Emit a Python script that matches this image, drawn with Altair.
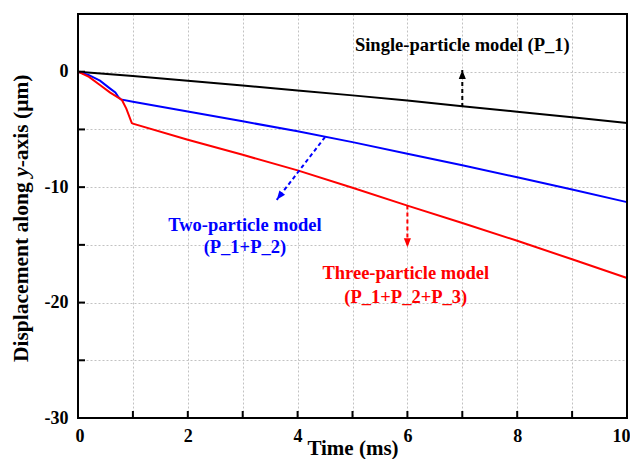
import math
import altair as alt
import pandas as pd

# ---------------- data ----------------
t_single = [0, 1, 2, 3, 4, 5, 6, 7, 8, 9, 10]
d_single = [0, -0.38, -0.78, -1.2, -1.62, -2.05, -2.5, -3.0, -3.47, -3.95, -4.45]

t_two = [0, 0.2, 0.4, 0.58, 0.68, 0.73, 0.78, 1, 2, 3, 4, 5, 6, 7, 8, 9, 10]
d_two = [0, -0.3, -0.78, -1.44, -1.8, -2.16, -2.4, -2.6, -3.45, -4.3, -5.15, -6.1, -7.1, -8.1, -9.15, -10.2, -11.3]

t_three = [0, 0.2, 0.4, 0.58, 0.8, 0.88, 0.98, 1, 2, 3, 4, 5, 6, 7, 8, 9, 10]
d_three = [0, -0.45, -1.15, -1.79, -2.45, -3.2, -4.45, -4.5, -5.9, -7.2, -8.55, -10.05, -11.6, -13.1, -14.65, -16.25, -17.87]

series_names = ["Single", "Two", "Three"]
series_colors = ["#000000", "#0000ff", "#ff0000"]

# annotation arrows (start on curve -> tip), in data units
arrow_series = ["Single", "Two", "Three"]
arrow_x0 = [7.0, 4.5, 6.0]
arrow_y0 = [-3.05, -5.66, -11.6]
arrow_x1 = [7.0, 3.62, 6.0]
arrow_y1 = [0.15, -11.1, -15.2]

# annotation labels
label_series = ["Single", "Two", "Two", "Three", "Three"]
label_text = ["Single-particle model (P_1)", "Two-particle model", "(P_1+P_2)",
              "Three-particle model", "(P_1+P_2+P_3)"]
label_x = [7.0, 3.04, 3.04, 5.97, 5.97]
label_y = [2.3, -13.3, -15.2, -17.45, -19.5]

x_ticks = list(range(0, 11))
y_ticks = [-30, -25, -20, -15, -10, -5, 0, 5]

# ---------------- layout ----------------
W, H = 549, 404
XD = [0, 10]
YD = [-30, 5]
FONT = "Liberation Serif"

rows = []
for n, ts, ds in [("Single", t_single, d_single), ("Two", t_two, d_two), ("Three", t_three, d_three)]:
    for i, (t, d) in enumerate(zip(ts, ds)):
        rows.append({"series": n, "t": t, "d": d, "order": i})
df = pd.DataFrame(rows)

ppx = W / (XD[1] - XD[0])
ppy = H / (YD[1] - YD[0])
arrows = pd.DataFrame({
    "series": arrow_series, "x0": arrow_x0, "y0": arrow_y0, "x1": arrow_x1, "y1": arrow_y1,
})
# angle clockwise from "up" of the screen vector start -> tip
arrows["ang"] = [
    math.degrees(math.atan2((c - a) * ppx, (d - b) * ppy)) % 360
    for a, b, c, d in zip(arrow_x0, arrow_y0, arrow_x1, arrow_y1)
]

labels = pd.DataFrame({"series": label_series, "text": label_text, "x": label_x, "y": label_y})

xs = alt.Scale(domain=XD, nice=False, zero=False)
ys = alt.Scale(domain=YD, nice=False, zero=False)
cs = alt.Scale(domain=series_names, range=series_colors)

GRID = "#c2c2c2"
x_axis = alt.Axis(
    values=x_ticks,
    labelExpr="datum.value % 2 === 0 ? datum.label : ''",
    title="Time (ms)", ticks=False, domain=False,
    grid=True, gridDash=[2, 2], gridColor=GRID, gridWidth=1,
    labelFont=FONT, labelFontSize=18, labelFontWeight="bold", labelColor="black",
    labelPadding=9, labelFlush=True, labelFlushOffset=3,
    titleFont=FONT, titleFontSize=21, titleFontWeight="bold", titleColor="black",
    titlePadding=-8,
)
y_axis = alt.Axis(
    values=y_ticks,
    labelExpr="datum.value % 10 === 0 ? '' + datum.value : ''",
    title=None, ticks=False, domain=False,
    grid=True, gridDash=[2, 2], gridColor=GRID, gridWidth=1,
    labelFont=FONT, labelFontSize=18, labelFontWeight="bold", labelColor="black",
    labelPadding=10, labelFlush=False,
)

lines = alt.Chart(df).mark_line(strokeWidth=2).encode(
    x=alt.X("t:Q", scale=xs, axis=x_axis),
    y=alt.Y("d:Q", scale=ys, axis=y_axis),
    color=alt.Color("series:N", scale=cs, legend=None),
    detail="series:N",
    order="order:Q",
)

xt = alt.Chart(pd.DataFrame({"t": x_ticks})).mark_rule(color="black", strokeWidth=2).encode(
    x=alt.X("t:Q", scale=xs, axis=x_axis),
    y=alt.value(H), y2=alt.value(H - 7),
)
yt = alt.Chart(pd.DataFrame({"v": y_ticks})).mark_rule(color="black", strokeWidth=2).encode(
    y=alt.Y("v:Q", scale=ys, axis=y_axis),
    x=alt.value(0), x2=alt.value(7),
)

shafts = alt.Chart(arrows).mark_rule(strokeWidth=2, strokeDash=[4, 3]).encode(
    x=alt.X("x0:Q", scale=xs, axis=x_axis), y=alt.Y("y0:Q", scale=ys, axis=y_axis),
    x2="x1:Q", y2="y1:Q",
    color=alt.Color("series:N", scale=cs, legend=None),
)
heads = alt.Chart(arrows).mark_point(
    shape="M0,0 L-0.75,1.9 L0.75,1.9 Z", filled=True, size=90, opacity=1, strokeWidth=0
).encode(
    x=alt.X("x1:Q", scale=xs, axis=x_axis), y=alt.Y("y1:Q", scale=ys, axis=y_axis),
    angle=alt.Angle("ang:Q", scale=None),
    color=alt.Color("series:N", scale=cs, legend=None),
)

texts = alt.Chart(labels).mark_text(
    font=FONT, fontSize=18.5, fontWeight="bold", align="center", baseline="middle"
).encode(
    x=alt.X("x:Q", scale=xs, axis=x_axis), y=alt.Y("y:Q", scale=ys, axis=y_axis),
    text="text:N",
    color=alt.Color("series:N", scale=cs, legend=None),
)

one = alt.Data(values=[{}])
frame = alt.Chart(one).mark_rect(fillOpacity=0, stroke="black", strokeWidth=2).encode(
    x=alt.value(0), x2=alt.value(W), y=alt.value(0), y2=alt.value(H),
)

# y-axis title with italic "y"
TX = -56
TFS = 21.5
Y0 = 348
w1 = 8.361 * TFS
sp = 0.25 * TFS
wy = 0.444 * TFS
seg1 = alt.Chart(one).mark_text(
    font=FONT, fontSize=TFS, fontWeight="bold", angle=270, align="left", baseline="middle", color="black"
).encode(x=alt.value(TX), y=alt.value(Y0), text=alt.value("Displacement along"))
seg2 = alt.Chart(one).mark_text(
    font=FONT, fontSize=TFS, fontWeight="bold", fontStyle="italic", angle=270, align="left",
    baseline="middle", color="black"
).encode(x=alt.value(TX), y=alt.value(Y0 - w1 - sp), text=alt.value("y"))
seg3 = alt.Chart(one).mark_text(
    font=FONT, fontSize=TFS, fontWeight="bold", angle=270, align="left", baseline="middle", color="black"
).encode(x=alt.value(TX), y=alt.value(Y0 - w1 - sp - wy), text=alt.value("-axis (μm)"))

chart = alt.layer(lines, xt, yt, shafts, heads, texts, frame, seg1, seg2, seg3).properties(
    width=W, height=H,
    autosize=alt.AutoSizeParams(type="none"),
    padding={"left": 70, "top": 6, "right": 3, "bottom": 41},
    background="white",
).configure_view(stroke=None)

chart.save("out.html", embed_options={"renderer": "svg", "actions": False})
